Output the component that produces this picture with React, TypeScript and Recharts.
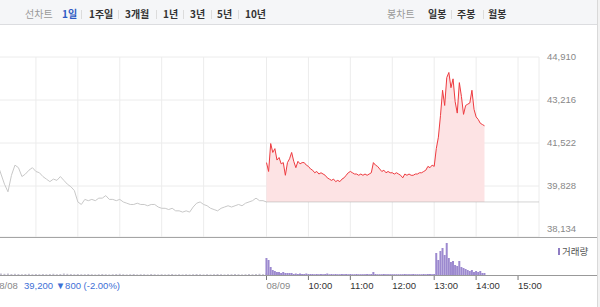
import { ComposedChart, Line, Area, Bar, Cell, XAxis, YAxis, CartesianGrid, ReferenceLine } from 'recharts';

// 08/08 price, one point every 5 minutes from 09:00 to 15:30
const day1Prices = [
  40800, 40700, 40300, 39900, 39600, 40250, 40650, 40550, 40200, 40300,
  40450, 40550, 40400, 40350, 40200, 40100, 40000, 40100, 40050, 40200,
  40050, 39900, 39800, 39650, 39200, 39100, 39300, 39250, 39300, 39250,
  39350, 39350, 39450, 39300, 39300, 39250, 39300, 39200, 39150, 39100,
  39100, 39150, 39100, 39100, 39050, 39100, 39100, 39000, 38950, 38950,
  38900, 38950, 38850, 38850, 38800, 38850, 38800, 39000, 39150, 39200,
  39100, 39050, 38950, 38900, 38850, 38950, 39000, 39050, 39000, 39050,
  39100, 39050, 39150, 39200, 39250, 39350, 39250, 39250, 39200,
];

// 08/09 price, one point every 3 minutes from 09:00 to 14:12
const day2Prices = [
  40750, 40400, 41500, 41150, 41300, 40850, 40950, 40700, 40750, 40250,
  40750, 40900, 41150, 40800, 40550, 40800, 40700, 40750, 40750, 40650,
  40600, 40500, 40450, 40350, 40400, 40300, 40350, 40300, 40250, 40150,
  40100, 40050, 40100, 40000, 40050, 40000, 40100, 40150, 40250, 40350,
  40400, 40350, 40300, 40300, 40250, 40300, 40250, 40300, 40250, 40300,
  40350, 40750, 40650, 40600, 40500, 40400, 40450, 40350, 40400, 40350,
  40350, 40300, 40350, 40300, 40250, 40150, 40300, 40250, 40300, 40250,
  40250, 40300, 40300, 40350, 40350, 40400, 40450, 40600, 40550, 40650,
  40600, 41300, 41750, 42600, 43600, 43000, 44100, 44300, 43700, 44050,
  43150, 42700, 43900, 43350, 42650, 43000, 43050, 43100, 43600, 42850,
  42550, 42450, 42300, 42250, 42200,
];

// volumes (thousand shares), same time steps as the prices
const day1Volumes = [
  60, 20, 15, 12, 15, 10, 12, 10, 8, 10,
  12, 8, 10, 8, 10, 8, 10, 12, 8, 10,
  15, 12, 10, 8, 10, 8, 8, 10, 8, 6,
  8, 10, 8, 6, 8, 10, 12, 8, 6, 8,
  10, 6, 8, 8, 6, 10, 8, 6, 8, 6,
  8, 10, 6, 8, 6, 8, 6, 8, 10, 8,
  6, 8, 6, 8, 10, 8, 6, 8, 8, 10,
  8, 6, 8, 10, 8, 10, 12, 8, 15,
];

const day2Volumes = [
  170, 150, 80, 50, 40, 30, 30, 20, 30, 20,
  20, 20, 20, 10, 15, 10, 15, 10, 10, 15,
  10, 10, 10, 8, 10, 8, 10, 8, 10, 15,
  8, 10, 8, 10, 8, 8, 10, 8, 10, 8,
  10, 8, 8, 10, 8, 8, 8, 8, 10, 8,
  10, 30, 10, 8, 8, 8, 10, 8, 8, 8,
  8, 8, 8, 8, 8, 8, 10, 8, 8, 8,
  10, 8, 8, 8, 8, 10, 8, 10, 10, 8,
  10, 220, 150, 240, 270, 200, 320, 170, 130, 140,
  100, 90, 140, 80, 70, 60, 50, 40, 50, 30,
  40, 30, 40, 20, 20,
];

const prevClose = 39200;
const changeText = '39,200 ▼800 (-2.00%)';
const yTicks = [38134, 39828, 41522, 43216, 44910];
const gridTimes = [60, 120, 180, 240, 300, 360, 390, 450, 510, 570, 630, 690, 750];
const xTicks = [0, 390, 450, 510, 570, 630, 690, 750];
const xTickLabels = ['08/08', '08/09', '10:00', '11:00', '12:00', '13:00', '14:00', '15:00'];
const periodTabs = ['1일', '1주일', '3개월', '1년', '3년', '5년', '10년'];
const candleTabs = ['일봉', '주봉', '월봉'];

const DAY1_STEP = 5;
const DAY2_STEP = 3;
const DAY2_START = 390;
const SESSION_END = 780;

const FONT = '"Liberation Sans", "Noto Sans CJK KR", sans-serif';
const KR_FONT = '"Noto Sans CJK KR", sans-serif';

type Row = { t: number; day: number; p1?: number; p2?: number; v: number };

const rows: Row[] = [
  ...day1Prices.map((p, i) => ({ t: i * DAY1_STEP, day: 1, p1: p, v: day1Volumes[i] ?? 0 })),
  ...day2Prices.map((p, i) => ({ t: DAY2_START + i * DAY2_STEP, day: 2, p2: p, v: day2Volumes[i] ?? 0 })),
];

function TimeTick(props: any) {
  const { x, y, payload } = props;
  const label = xTickLabels[xTicks.indexOf(payload.value)] ?? '';
  const isDate = label.includes('/');
  return (
    <text x={x} y={y} dy="0.71em" textAnchor="start" fontSize={9.5} fontFamily={FONT} fill={isDate ? '#888' : '#333'}>
      {label}
    </text>
  );
}

const periodLeft = [62, 89, 125, 163, 190, 217, 245];
const periodSep = [81, 118, 156, 183, 211, 238];
const candleLeft = [428, 457, 488];
const candleSep = [451, 483];

export default function App() {
  return (
    <div style={{ position: 'absolute', left: 0, top: 0, width: 600, height: 307, overflow: 'hidden', background: '#fff', fontFamily: FONT }}>
      {/* top tab bar */}
      <div style={{ position: 'absolute', left: 0, top: 0, width: 597, height: 24, background: '#f5f6f8', borderBottom: '1px solid #dcdde0' }}>
        <span style={{ position: 'absolute', left: 25, top: 7, fontSize: 10, lineHeight: '14px', color: '#999', fontFamily: KR_FONT }}>선차트</span>
        {periodTabs.map((tab, i) => (
          <span
            key={tab}
            style={{
              position: 'absolute', left: periodLeft[i], top: 7, fontSize: 10, lineHeight: '14px', fontWeight: 700,
              color: i === 0 ? '#2f5bc4' : '#333', fontFamily: KR_FONT,
            }}
          >
            {tab}
          </span>
        ))}
        {periodSep.concat(candleSep).map((left) => (
          <span key={left} style={{ position: 'absolute', left, top: 10, width: 1, height: 9, background: '#dcdcdc' }} />
        ))}
        <span style={{ position: 'absolute', left: 387, top: 7, fontSize: 10, lineHeight: '14px', color: '#999', fontFamily: KR_FONT }}>봉차트</span>
        {candleTabs.map((tab, i) => (
          <span
            key={tab}
            style={{ position: 'absolute', left: candleLeft[i], top: 7, fontSize: 10, lineHeight: '14px', fontWeight: 700, color: '#333', fontFamily: KR_FONT }}
          >
            {tab}
          </span>
        ))}
      </div>

      {/* price panel */}
      <div style={{ position: 'absolute', left: -6, top: 25 }}>
        <ComposedChart width={603} height={212} data={rows} margin={{ top: 32, right: 0, bottom: 0, left: 0 }}>
          <CartesianGrid stroke="#ececec" />
          <XAxis dataKey="t" type="number" domain={[0, SESSION_END]} ticks={gridTimes} hide />
          <YAxis
            orientation="right"
            domain={[37819, 44910]}
            ticks={yTicks}
            width={58}
            axisLine={false}
            tickLine={false}
            tickSize={0}
            tickMargin={8}
            tick={{ fontSize: 9.5, fill: '#888', fontFamily: FONT, textAnchor: 'start' }}
            tickFormatter={(v: number) => v.toLocaleString('en-US')}
            allowDataOverflow
          />
          <Area
            dataKey="p2"
            type="linear"
            baseValue={prevClose}
            stroke="#ee3b40"
            strokeWidth={1}
            fill="#fde3e4"
            fillOpacity={1}
            dot={false}
            activeDot={false}
            isAnimationActive={false}
          />
          <ReferenceLine
            segment={[{ x: DAY2_START, y: prevClose }, { x: SESSION_END, y: prevClose }]}
            stroke="#aaa"
            strokeDasharray="1 1"
          />
          <Line
            dataKey="p1"
            type="linear"
            stroke="#c8c8c8"
            strokeWidth={1}
            dot={false}
            activeDot={false}
            isAnimationActive={false}
          />
        </ComposedChart>
      </div>
      <div style={{ position: 'absolute', left: 0, top: 237, width: 597, height: 1, background: '#a5a5a5' }} />

      {/* volume panel */}
      <div style={{ position: 'absolute', left: -6, top: 238 }}>
        <ComposedChart width={603} height={62} data={rows} margin={{ top: 0, right: 58, bottom: 0, left: 0 }}>
          <XAxis
            dataKey="t"
            type="number"
            domain={[0, SESSION_END]}
            ticks={xTicks}
            interval={0}
            height={25}
            axisLine={false}
            tickSize={5}
            tickLine={{ stroke: '#777' }}
            tick={<TimeTick />}
          />
          <YAxis hide domain={[0, 370]} />
          <Bar dataKey="v" barSize={2} isAnimationActive={false}>
            {rows.map((r, i) => (
              <Cell key={i} fill={r.day === 2 ? '#9c89cf' : '#c3bfd0'} />
            ))}
          </Bar>
        </ComposedChart>
      </div>
      <div style={{ position: 'absolute', left: 0, top: 275, width: 597, height: 1, background: '#999' }} />
      <div style={{ position: 'absolute', left: 558, top: 245, fontSize: 9.5, color: '#555', fontFamily: KR_FONT, lineHeight: '12px' }}>
        <span style={{ display: 'inline-block', width: 2, height: 7, background: '#8e7cc3', marginRight: 2 }} />
        거래량
      </div>
      <div style={{ position: 'absolute', left: 24, top: 280, fontSize: 9.5, color: '#3d6fd6', lineHeight: '12px', whiteSpace: 'nowrap' }}>
        {changeText}
      </div>

      {/* right edge strip */}
      <div style={{ position: 'absolute', left: 597, top: 0, width: 3, height: 307, background: '#f2f2f2', borderLeft: '1px solid #d9d9d9', boxSizing: 'border-box' }} />
    </div>
  );
}
